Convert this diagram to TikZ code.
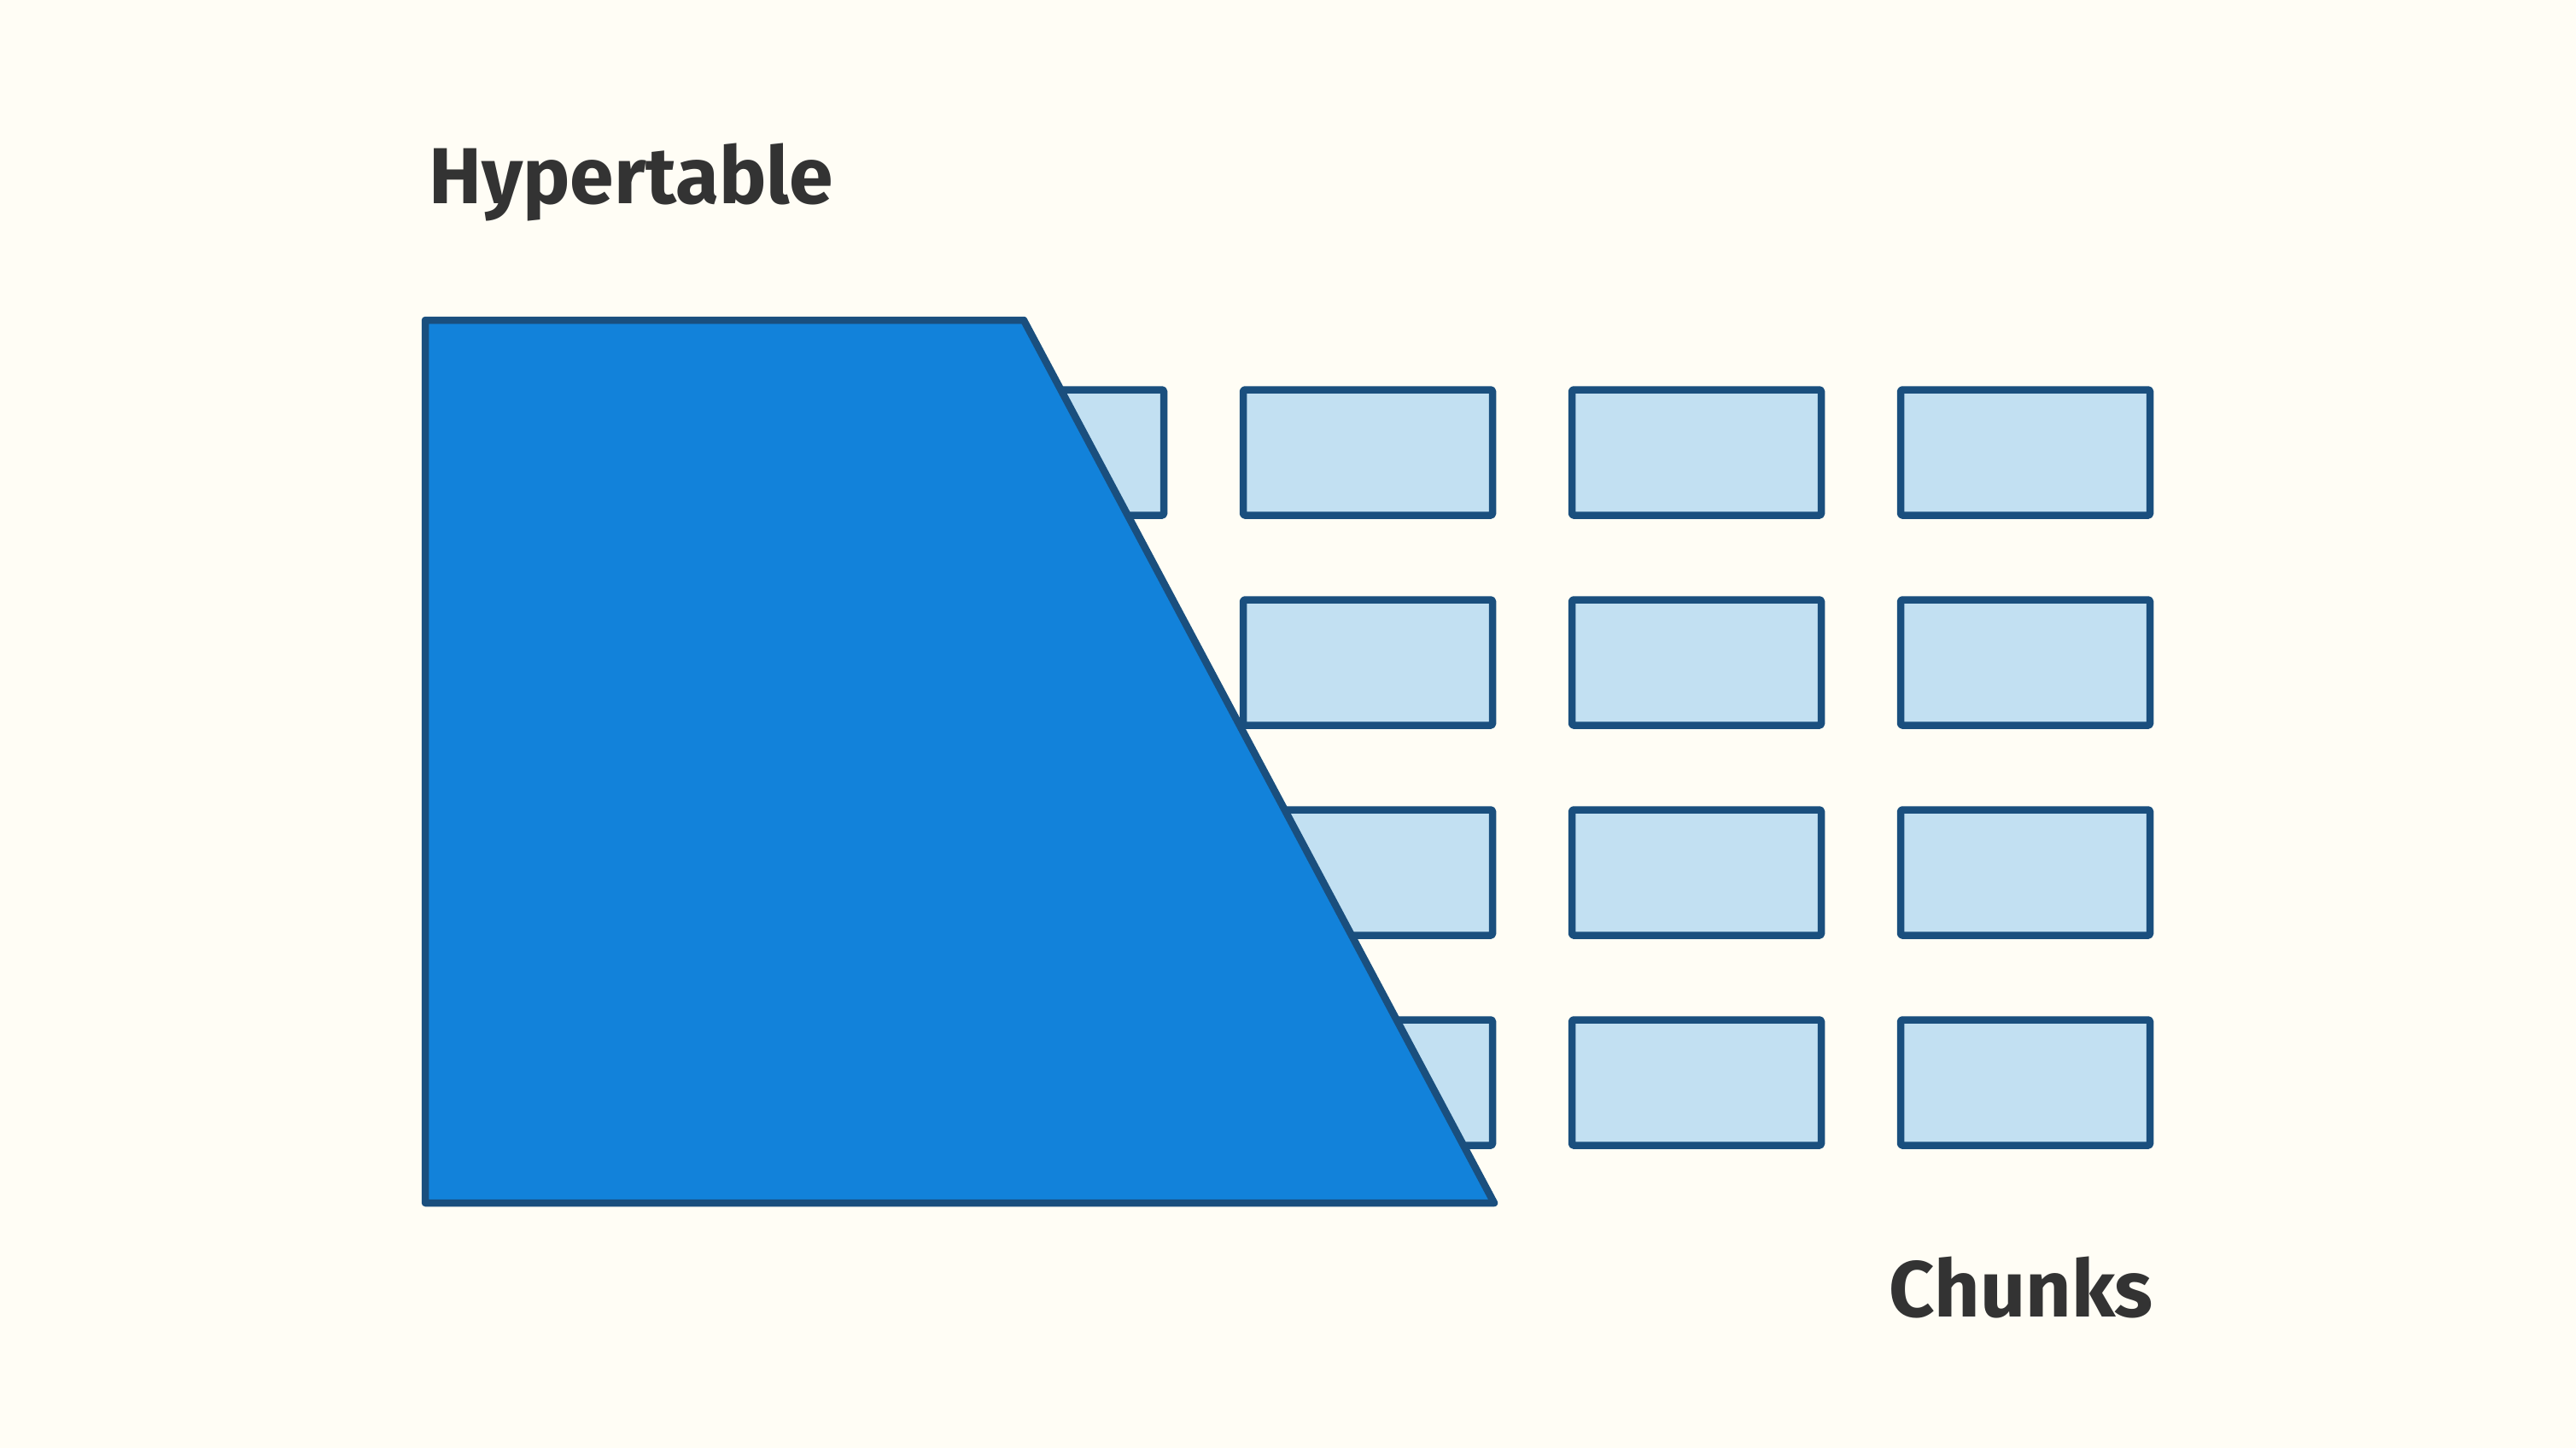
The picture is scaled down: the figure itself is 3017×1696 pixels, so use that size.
\documentclass[tikz,border=0pt]{standalone}
\usepackage{fontspec}
\setmainfont{Fira Sans}
\definecolor{bgc}{HTML}{FFFDF5}
\definecolor{edgec}{HTML}{1A4F7E}
\definecolor{chunkc}{HTML}{C2E0F2}
\definecolor{hyperc}{HTML}{1282DA}
\definecolor{textc}{HTML}{333333}
\begin{document}
\begin{tikzpicture}[x=1pt,y=-1pt,
  chunk/.style={draw=edgec,fill=chunkc,line width=8.5pt,line join=round,rounded corners=1.5pt,
    inner sep=0pt,minimum width=292pt,minimum height=147pt},
  lbl/.style={text=textc,inner sep=0pt,font=\bfseries\fontsize{93}{100}\selectfont}]
\fill[bgc] (0,0) rectangle (3017,1696);
\useasboundingbox (0,0) rectangle (3017,1696);
% chunks
\node[chunk] (c01) at (1217,530) {};
\foreach \c/\x in {1/1602,2/1987,3/2372}{
  \foreach \r/\y in {1/530,2/776,3/1022,4/1268}{
    \node[chunk] (c\c\r) at (\x,\y) {};
  }
}
% hypertable
\coordinate (htl) at (498,375);
\coordinate (htr) at (1199,375);
\coordinate (hbr) at (1750,1409);
\coordinate (hbl) at (498,1409);
\draw[draw=edgec,fill=hyperc,line width=8.5pt,line join=round] (htl) -- (htr) -- (hbr) -- (hbl) -- cycle;
\node[lbl,anchor=base west] (hyper) at (502,239) {Hypertable};
\node[lbl,anchor=base east] (chunks) at (2522,1542) {Chunks};
\end{tikzpicture}
\end{document}
